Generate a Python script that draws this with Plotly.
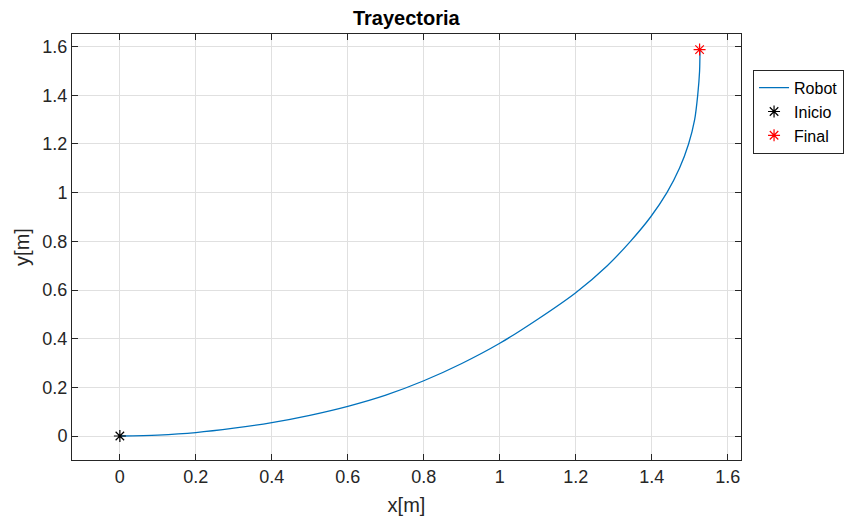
import plotly.graph_objects as go

# Trajectory
robot_x = [0, 0.1, 0.2, 0.3, 0.4, 0.5, 0.6, 0.7, 0.8, 0.9, 1.0, 1.1, 1.2,
           1.283, 1.344, 1.397, 1.44, 1.473, 1.497, 1.513, 1.521, 1.526, 1.527]
robot_y = [0, 0.004, 0.014, 0.032, 0.055, 0.085, 0.122, 0.168, 0.227, 0.298, 0.381, 0.48, 0.589,
           0.7, 0.8, 0.9, 1.0, 1.1, 1.2, 1.3, 1.4, 1.5, 1.587]
start_pt = ([0.0], [0.0])
end_pt = ([1.526], [1.588])

x_ticks = [0, 0.2, 0.4, 0.6, 0.8, 1.0, 1.2, 1.4, 1.6]
x_tick_text = ["0", "0.2", "0.4", "0.6", "0.8", "1", "1.2", "1.4", "1.6"]
y_ticks = [0, 0.2, 0.4, 0.6, 0.8, 1.0, 1.2, 1.4, 1.6]
y_tick_text = ["0", "0.2", "0.4", "0.6", "0.8", "1", "1.2", "1.4", "1.6"]

FONT = "Liberation Sans, Arial, sans-serif"
AX = "#262626"

fig = go.Figure()
fig.add_trace(go.Scatter(x=robot_x, y=robot_y, mode="lines", name="Robot",
                         line=dict(color="#0072BD", width=1.3, shape="spline", smoothing=0.8)))
fig.add_trace(go.Scatter(x=start_pt[0], y=start_pt[1], mode="markers", name="Inicio",
                         marker=dict(symbol="asterisk-open", size=10, color="black",
                                     line=dict(color="black", width=1.2))))
fig.add_trace(go.Scatter(x=end_pt[0], y=end_pt[1], mode="markers", name="Final",
                         marker=dict(symbol="asterisk-open", size=10, color="red",
                                     line=dict(color="red", width=1.2))))

axis_common = dict(showline=True, linecolor=AX, linewidth=1, mirror="ticks",
                   ticks="inside", ticklen=6, tickcolor=AX, tickwidth=1,
                   showgrid=True, gridcolor="#e0e0e0", gridwidth=1, zeroline=False,
                   automargin=False,
                   tickfont=dict(family=FONT, size=18, color=AX))

fig.update_xaxes(range=[-0.126, 1.635], tickvals=x_ticks, ticktext=x_tick_text,
                 title=dict(text="x[m]", font=dict(family=FONT, size=20, color=AX), standoff=12),
                 **axis_common)
fig.update_yaxes(range=[-0.0986, 1.652], tickvals=y_ticks, ticktext=y_tick_text,
                 title=dict(text="y[m]", font=dict(family=FONT, size=20, color=AX), standoff=7),
                 **axis_common)

fig.update_layout(
    width=858, height=523,
    margin=dict(l=72, r=117, t=34, b=63),
    paper_bgcolor="white", plot_bgcolor="white",
    title=dict(text="<b>Trayectoria</b>", x=0.4735, xanchor="center", y=0.965, yanchor="middle",
               font=dict(family=FONT, size=20, color="black")),
    legend=dict(x=1.018, y=0.916, xanchor="left", yanchor="top",
                bordercolor=AX, borderwidth=1, bgcolor="white",
                font=dict(family=FONT, size=16, color="black"),
                tracegroupgap=0, itemwidth=30),
    showlegend=True,
)

fig.write_html("out.html")
